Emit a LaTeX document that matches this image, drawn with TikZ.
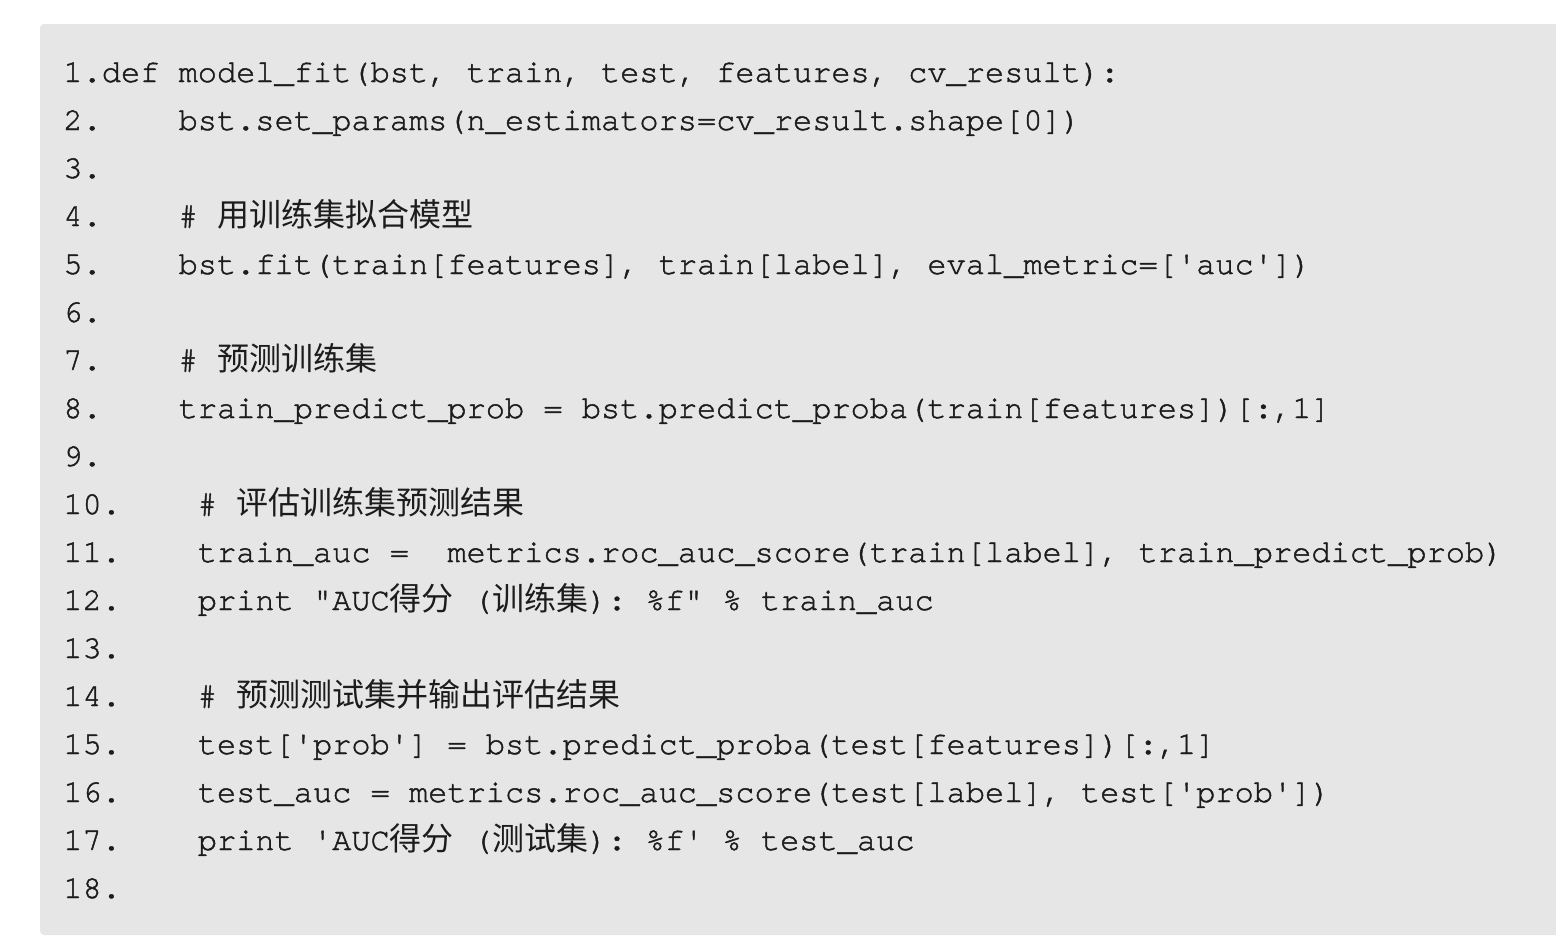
\documentclass[tikz,border=0pt]{standalone}
\usepackage{fontspec}
\setmonofont[Ligatures=NoCommon,FakeBold=1.4]{TeX Gyre Cursor}
\newfontfamily\cjk{Noto Sans CJK SC}
\definecolor{codebg}{RGB}{230,230,230}
\definecolor{codefg}{RGB}{28,28,28}
\newcommand{\zh}[1]{{\cjk\fontsize{16}{16}\selectfont #1}}
\begin{document}
\begin{tikzpicture}[x=0.5pt,y=-0.5pt,
  num/.style={anchor=base west,inner sep=0pt,text=codefg,font=\ttfamily\fontsize{16}{16}\selectfont},
  code/.style={num}]
 \useasboundingbox (0,0) rectangle (1556,942);
 \clip (0,0) rectangle (1556,942);
 \fill[codebg,rounded corners=2pt] (1600,24) -- (40,24) -- (40,935) -- (1600,935) -- cycle;
 \node[num] (n1) at (63,82) {1.};
 \node[num] (n2) at (63,130) {2.};
 \node[num] (n3) at (63,178) {3.};
 \node[num] (n4) at (63,226) {4.};
 \node[num] (n5) at (63,274) {5.};
 \node[num] (n6) at (63,322) {6.};
 \node[num] (n7) at (63,370) {7.};
 \node[num] (n8) at (63,418) {8.};
 \node[num] (n9) at (63,466) {9.};
 \node[num] (n10) at (63,514) {10.};
 \node[num] (n11) at (63,562) {11.};
 \node[num] (n12) at (63,610) {12.};
 \node[num] (n13) at (63,658) {13.};
 \node[num] (n14) at (63,706) {14.};
 \node[num] (n15) at (63,754) {15.};
 \node[num] (n16) at (63,802) {16.};
 \node[num] (n17) at (63,850) {17.};
 \node[num] (n18) at (63,898) {18.};
 \node[code] (c1) at (101.4,82) {def model\_fit(bst, train, test, features, cv\_result):};
 \node[code] (c2) at (178.2,130) {bst.set\_params(n\_estimators=cv\_result.shape[0])};
 \node[code] (c4) at (178.2,226) {\# \zh{用训练集拟合模型}};
 \node[code] (c5) at (178.2,274) {bst.fit(train[features], train[label], eval\_metric=['auc'])};
 \node[code] (c7) at (178.2,370) {\# \zh{预测训练集}};
 \node[code] (c8) at (178.2,418) {train\_predict\_prob = bst.predict\_proba(train[features])[:,1]};
 \node[code] (c10) at (197.4,514) {\# \zh{评估训练集预测结果}};
 \node[code] (c11) at (197.4,562) {train\_auc = \ metrics.roc\_auc\_score(train[label], train\_predict\_prob)};
 \node[code] (c12) at (197.4,610) {print "AUC\zh{得分} (\zh{训练集}): \%f" \% train\_auc};
 \node[code] (c14) at (197.4,706) {\# \zh{预测测试集并输出评估结果}};
 \node[code] (c15) at (197.4,754) {test['prob'] = bst.predict\_proba(test[features])[:,1]};
 \node[code] (c16) at (197.4,802) {test\_auc = metrics.roc\_auc\_score(test[label], test['prob'])};
 \node[code] (c17) at (197.4,850) {print 'AUC\zh{得分} (\zh{测试集}): \%f' \% test\_auc};
\end{tikzpicture}
\end{document}
